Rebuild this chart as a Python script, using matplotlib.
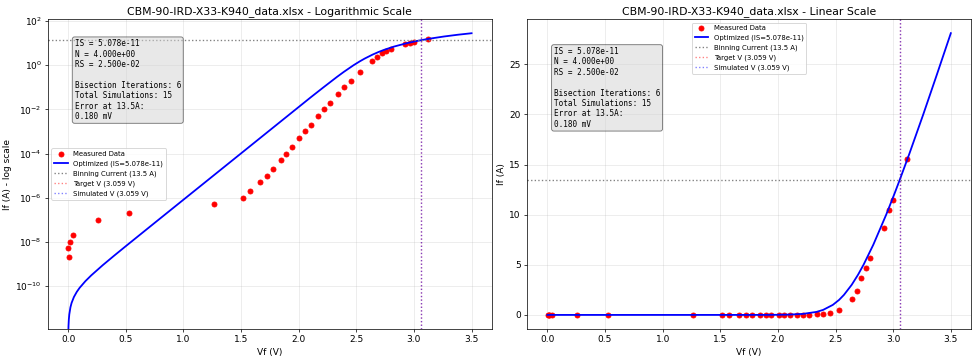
import matplotlib
matplotlib.use('Agg')
import matplotlib.pyplot as plt
import numpy as np

fname = 'CBM-90-IRD-X33-K940_data.xlsx'
IS = 5.078e-11
N = 4.0
RS = 0.025
I_bin = 13.5
V_target = 3.059
V_sim = 3.059

# measured points
vf_meas = [0.003, 0.011, 0.017, 0.044, 0.26, 0.527, 1.266, 1.513, 1.577, 1.661,
           1.722, 1.778, 1.844, 1.894, 1.943, 2.007, 2.054, 2.104, 2.168, 2.217,
           2.269, 2.339, 2.392, 2.453, 2.531, 2.639, 2.683, 2.72, 2.761, 2.80,
           2.92, 2.965, 3.00, 3.12]
if_meas = [5e-9, 2e-9, 1e-8, 2e-8, 1e-7, 2e-7, 5e-7, 1e-6, 2e-6, 5e-6,
           1e-5, 2e-5, 5e-5, 1e-4, 2e-4, 5e-4, 1e-3, 2e-3, 5e-3, 1e-2,
           2e-2, 5e-2, 0.1, 0.2, 0.5, 1.63, 2.43, 3.67, 4.63, 5.7,
           8.7, 10.5, 11.5, 15.6]

# optimized model curve
vf_model = [0.0, 0.001, 0.003, 0.006, 0.01, 0.02, 0.03, 0.05, 0.075, 0.1,
            0.15, 0.2, 0.3, 0.4, 0.5, 0.75, 1.0, 1.25, 1.5, 1.75,
            1.9, 2.0, 2.05, 2.1, 2.2155, 2.3341, 2.392, 2.4761, 2.5306, 2.5728,
            2.6398, 2.6945, 2.7426, 2.8274, 2.9393, 3.0081, 3.0578, 3.1379, 3.2609, 3.3798,
            3.5]
if_model = [0.0, 4.93e-13, 1.494e-12, 3.03e-12, 5.16e-12, 1.084e-11, 1.709e-11, 3.157e-11, 5.41e-11, 8.28e-11,
            1.658e-10, 3.005e-10, 8.73e-10, 2.379e-9, 6.34e-9, 7.17e-8, 8.05e-7, 9.03e-6, 1.013e-4, 1.137e-3,
            4.85e-3, 0.01276, 0.0207, 0.0336, 0.1, 0.3, 0.5, 1.0, 1.5, 2.0,
            3.0, 4.0, 5.0, 7.0, 10.0, 12.0, 13.5, 16.0, 20.0, 24.0,
            28.1]

info = ('IS = %.3e\nN = %.3e\nRS = %.3e\n\nBisection Iterations: 6\n'
        'Total Simulations: 15\nError at 13.5A:\n0.180 mV' % (IS, N, RS))

fig, (ax1, ax2) = plt.subplots(1, 2, figsize=(15, 360/65), dpi=65)
fig.subplots_adjust(left=0.0492, right=0.9959, bottom=0.0861, top=0.947, wspace=0.08)

for ax, logscale in [(ax1, True), (ax2, False)]:
    ax.plot(vf_meas, if_meas, 'ro', markersize=5.5, label='Measured Data')
    ax.plot(vf_model, if_model, 'b-', linewidth=2, label='Optimized (IS=%.3e)' % IS)
    ax.axhline(I_bin, color='gray', linestyle=':', label='Binning Current (%.1f A)' % I_bin)
    ax.axvline(V_target, color='r', linestyle=':', alpha=0.5, label='Target V (%.3f V)' % V_target)
    ax.axvline(V_sim, color='b', linestyle=':', alpha=0.5, label='Simulated V (%.3f V)' % V_sim)
    ax.set_xlabel('Vf (V)')
    ax.grid(True, alpha=0.3)
    if logscale:
        ax.set_yscale('log')
        ax.set_ylim(10**-11.95, 10**2.09)
        ax.set_ylabel('If (A) - log scale')
        ax.set_title(fname + ' - Logarithmic Scale')
        ax.legend(loc='center left', fontsize=7.6)
        ty = 0.935
    else:
        ax.set_ylabel('If (A)')
        ax.set_title(fname + ' - Linear Scale')
        ax.legend(loc='upper center', fontsize=7.6)
        ty = 0.91
    ax.text(0.06, ty, info, transform=ax.transAxes, fontsize=8.5, va='top',
            family='monospace',
            bbox=dict(boxstyle='round', facecolor='lightgray', alpha=0.5))

fig.savefig('out.png', dpi=65)
